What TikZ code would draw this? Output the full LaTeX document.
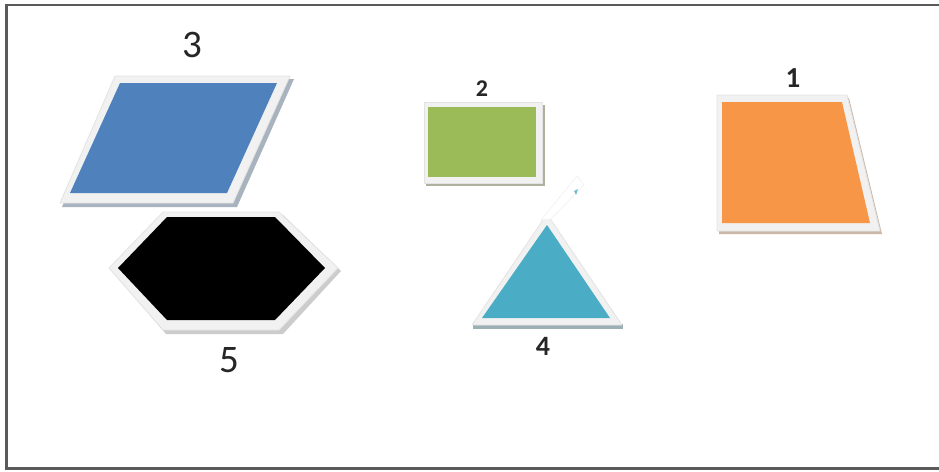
\documentclass[tikz,border=0pt]{standalone}
\usepackage{fontspec}
\setmainfont{Carlito}
\definecolor{frameC}{HTML}{5A5A5A}
\definecolor{blueC}{HTML}{4F81BD}
\definecolor{greenC}{HTML}{9BBB59}
\definecolor{orangeC}{HTML}{F79646}
\definecolor{tealC}{HTML}{4BACC6}
\definecolor{bezel}{HTML}{F1F1F1}
\definecolor{labelC}{HTML}{262626}
\tikzset{
  bezelshape/.style={fill=bezel, draw=gray!22, line width=0.8pt, line join=round},
  shadowshape/.style={fill=#1, draw=none},
  lbl/.style={anchor=base, inner sep=0pt, text=labelC, font=\fontsize{#1}{#1}\selectfont},
  blbl/.style={anchor=base, inner sep=0pt, text=labelC, font=\fontsize{#1}{#1}\selectfont\bfseries},
}
\begin{document}
\begin{tikzpicture}[x=1pt,y=-1pt]
\useasboundingbox (0,0) rectangle (939,471);
\fill[white] (0,0) rectangle (939,471);
% frame
\draw[frameC, line width=2.6pt] (939,5) -- (6.5,5) -- (6.5,468.5) -- (939,468.5);

% parallelogram (3)
\fill[shadowshape=blueC!35!gray!60] (118,79) -- (294,79) -- (237,207) -- (62,207) -- cycle;
\filldraw[bezelshape] (115,76) -- (290,76) -- (233,203) -- (60,203) -- cycle;
\fill[blueC] (120,83) -- (277,83) -- (227,193) -- (70,193) -- cycle;
\node[lbl=39] (l3) at (192,57) {3};

% hexagon (5)
\fill[shadowshape=gray!40] (112,271) -- (166,215) -- (283,215) -- (341,271) -- (283,334) -- (166,334) -- cycle;
\filldraw[bezelshape] (109,268) -- (163,212) -- (279,212) -- (338,268) -- (279,330) -- (163,330) -- cycle;
\fill[black] (118,268) -- (167,217) -- (275,217) -- (325,268) -- (275,320) -- (167,320) -- cycle;
\node[lbl=39] (l5) at (229,372) {5};

% rectangle (2)
\fill[shadowshape=greenC!30!gray!70] (426,105) rectangle (545,186);
\filldraw[bezelshape] (424,102) rectangle (542,183);
\fill[greenC] (428,107) rectangle (536,177);
\node[blbl=24] (l2) at (482,96) {2};

% triangle (4)
\fill[shadowshape=tealC!30!gray!70] (473,324) rectangle (623,328.5);
\filldraw[bezelshape] (547,214) -- (622,325) -- (472,325) -- cycle;
\fill[tealC] (547,225) -- (610,318) -- (482,318) -- cycle;
\filldraw[fill=white, draw=gray!12, line width=0.6pt] (541,220) -- (577,176) -- (584,185) -- (551,219) -- cycle;
\fill[tealC!80] (574,191) -- (578,189) -- (576,195) -- cycle;
\node[blbl=28] (l4) at (543,355) {4};

% trapezoid (1)
\fill[shadowshape=orangeC!35!gray!60] (719,98) -- (849,98) -- (882,234) -- (719,234) -- cycle;
\filldraw[bezelshape] (717,95) -- (847,95) -- (880,231) -- (717,231) -- cycle;
\fill[orangeC] (722,102) -- (842,102) -- (870,223) -- (722,223) -- cycle;
\node[blbl=29] (l1) at (793,87) {1};
\end{tikzpicture}
\end{document}
